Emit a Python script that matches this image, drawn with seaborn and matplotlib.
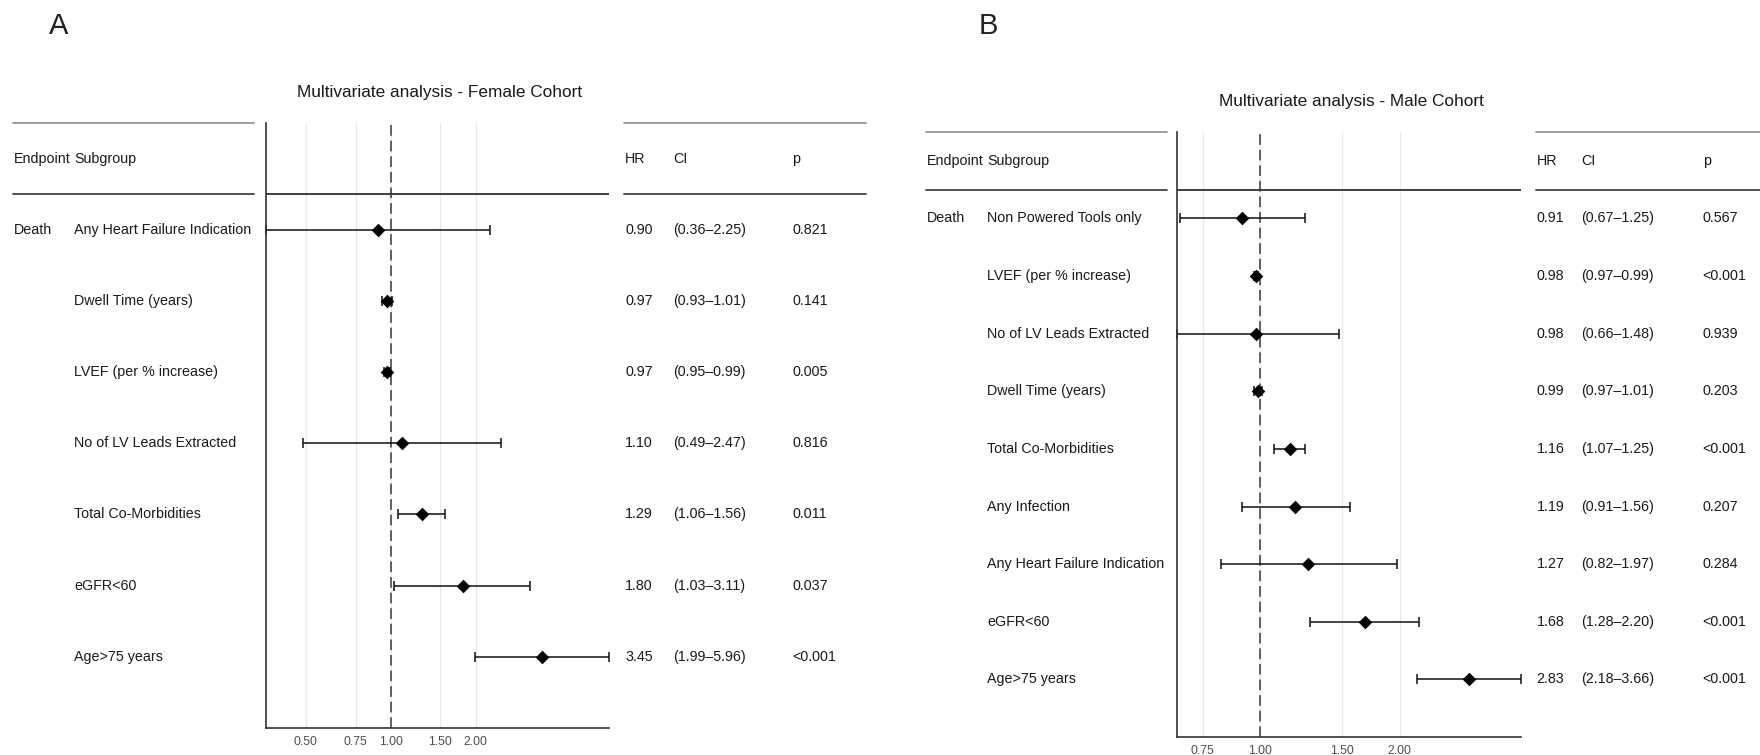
import numpy as np
import pandas as pd
import matplotlib
matplotlib.use("Agg")
import matplotlib.pyplot as plt
from matplotlib.ticker import NullLocator
import seaborn as sns

# ---- Female cohort ----
female_subgroups = ["Any Heart Failure Indication", "Dwell Time (years)", "LVEF (per % increase)",
                    "No of LV Leads Extracted", "Total Co-Morbidities", "eGFR<60", "Age>75 years"]
female_hr = [0.90, 0.97, 0.97, 1.10, 1.29, 1.80, 3.45]
female_lo = [0.36, 0.93, 0.95, 0.49, 1.06, 1.03, 1.99]
female_hi = [2.25, 1.01, 0.99, 2.47, 1.56, 3.11, 5.96]
female_p = ["0.821", "0.141", "0.005", "0.816", "0.011", "0.037", "<0.001"]
female_ticks = [0.50, 0.75, 1.00, 1.50, 2.00]

# ---- Male cohort ----
male_subgroups = ["Non Powered Tools only", "LVEF (per % increase)", "No of LV Leads Extracted",
                  "Dwell Time (years)", "Total Co-Morbidities", "Any Infection",
                  "Any Heart Failure Indication", "eGFR<60", "Age>75 years"]
male_hr = [0.91, 0.98, 0.98, 0.99, 1.16, 1.19, 1.27, 1.68, 2.83]
male_lo = [0.67, 0.97, 0.66, 0.97, 1.07, 0.91, 0.82, 1.28, 2.18]
male_hi = [1.25, 0.99, 1.48, 1.01, 1.25, 1.56, 1.97, 2.20, 3.66]
male_p = ["0.567", "<0.001", "0.939", "0.203", "<0.001", "0.207", "0.284", "<0.001", "<0.001"]
male_ticks = [0.75, 1.00, 1.50, 2.00]

endpoint = "Death"

sns.set_theme(style="white")
plt.rcParams["font.family"] = ["Liberation Sans", "DejaVu Sans"]

W, H = 1760, 755
fig = plt.figure(figsize=(W / 100, H / 100), dpi=100)

TXT = "#1a1a1a"
FS = 10.3


def box(x0, x1, y0, y1):
    return [x0 / W, 1 - y1 / H, (x1 - x0) / W, (y1 - y0) / H]


def table_lines(ax):
    ax.axhline(-1.5, color="#8c8c8c", lw=1.2, clip_on=False)
    ax.axhline(-0.5, color="#444444", lw=1.3, clip_on=False)


def draw_panel(letter, letter_xy, title, subgroups, hr, lo, hi, pvals, ticks,
               left_px, forest_px, right_px, top, bottom, ci_off, p_off, title_y):
    n = len(subgroups)
    ylim = (n, -1.5)
    df = pd.DataFrame({"row": np.arange(n), "hr": hr, "lo": lo, "hi": hi})

    # left table: endpoint / subgroup
    axl = fig.add_axes(box(left_px[0], left_px[1], top, bottom))
    axl.set_xlim(0, left_px[1] - left_px[0])
    axl.set_ylim(*ylim)
    axl.axis("off")
    table_lines(axl)
    axl.text(1, -1, "Endpoint", ha="left", va="center", fontsize=FS, color=TXT)
    axl.text(61, -1, "Subgroup", ha="left", va="center", fontsize=FS, color=TXT)
    for i, s in enumerate(subgroups):
        if i == 0:
            axl.text(1, i, endpoint, ha="left", va="center", fontsize=FS, color=TXT)
        axl.text(61, i, s, ha="left", va="center", fontsize=FS, color=TXT)

    # forest plot
    axf = fig.add_axes(box(forest_px[0], forest_px[1], top, bottom))
    axf.set_xscale("log")
    axf.set_xlim(min(lo), max(hi))
    axf.set_ylim(*ylim)
    for t in ticks:
        axf.axvline(t, color="#e8e8e8", lw=0.9, zorder=0)
    axf.axvline(1.0, color="#3a3a3a", lw=1.1, ls=(0, (7, 3.2)), zorder=1)
    axf.axhline(-0.5, color="#333333", lw=1.3, zorder=1)
    eb = axf.errorbar(df["hr"], df["row"], xerr=[df["hr"] - df["lo"], df["hi"] - df["hr"]],
                      fmt="none", ecolor="#111111", elinewidth=1.1, capsize=3.3,
                      capthick=1.1, zorder=2)
    for art in eb.get_children():
        art.set_clip_on(False)
    sns.scatterplot(data=df, x="hr", y="row", marker="D", s=48, color="black",
                    linewidth=0, ax=axf, zorder=4, legend=False, clip_on=False)
    axf.set_xticks(ticks)
    axf.set_xticklabels([f"{t:.2f}" for t in ticks])
    axf.xaxis.set_minor_locator(NullLocator())
    axf.set_yticks([])
    axf.set_xlabel("")
    axf.set_ylabel("")
    axf.tick_params(axis="x", length=0, pad=6, labelsize=8.7, labelcolor="#4d4d4d")
    for side in ("top", "right"):
        axf.spines[side].set_visible(False)
    for side in ("left", "bottom"):
        axf.spines[side].set_color("#333333")
        axf.spines[side].set_linewidth(1.2)

    # right table: HR / CI / p
    axr = fig.add_axes(box(right_px[0], right_px[1], top, bottom))
    axr.set_xlim(0, right_px[1] - right_px[0])
    axr.set_ylim(*ylim)
    axr.axis("off")
    table_lines(axr)
    axr.text(1, -1, "HR", ha="left", va="center", fontsize=FS, color=TXT)
    axr.text(ci_off, -1, "CI", ha="left", va="center", fontsize=FS, color=TXT)
    axr.text(p_off, -1, "p", ha="left", va="center", fontsize=FS, color=TXT)
    for i in range(n):
        axr.text(1, i, f"{hr[i]:.2f}", ha="left", va="center", fontsize=FS, color=TXT)
        axr.text(ci_off, i, f"({lo[i]:.2f}\u2013{hi[i]:.2f})", ha="left", va="center",
                 fontsize=FS, color=TXT)
        axr.text(p_off, i, pvals[i], ha="left", va="center", fontsize=FS, color=TXT)

    cx = (left_px[0] + right_px[1]) / 2
    fig.text(cx / W, 1 - title_y / H, title, ha="center", va="center", fontsize=12.4, color=TXT)
    fig.text(letter_xy[0] / W, 1 - letter_xy[1] / H, letter, ha="center", va="center",
             fontsize=21, color="#222222")


draw_panel("A", (59, 26), "Multivariate analysis - Female Cohort",
           female_subgroups, female_hr, female_lo, female_hi, female_p, female_ticks,
           left_px=(13, 254), forest_px=(265.7, 609.3), right_px=(624, 866),
           top=123, bottom=728, ci_off=49, p_off=168, title_y=92)

draw_panel("B", (988, 26), "Multivariate analysis - Male Cohort",
           male_subgroups, male_hr, male_lo, male_hi, male_p, male_ticks,
           left_px=(926, 1166.7), forest_px=(1177, 1521), right_px=(1535.7, 1777),
           top=132, bottom=737, ci_off=45.5, p_off=167, title_y=101.5)

fig.savefig("out.png", dpi=100, facecolor="white")
